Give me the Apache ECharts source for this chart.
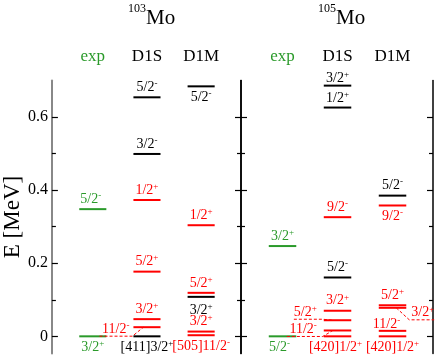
<!DOCTYPE html>
<html><head><meta charset="utf-8">
<script src="https://cdn.jsdelivr.net/npm/echarts@6/dist/echarts.min.js"></script>
<style>html,body{margin:0;padding:0;background:#fff}#c{width:436px;height:362px}</style>
</head><body><div id="c"></div>
<script>
// ---------- data ----------
const columns = ['exp', 'D1S', 'D1M'];
const yTickValues = [0, 0.2, 0.4, 0.6];
const yTickLabels = ['0', '0.2', '0.4', '0.6'];
const yMinorTickValues = [0.1, 0.3, 0.5];
const nucleusNames = ['103', '105'];

// 103Mo
const mo103ExpE = [0, 0.348];
const mo103ExpJ = ['3/2+', '5/2-'];
const mo103D1SE = [0, 0.025, 0.047, 0.177, 0.373, 0.499, 0.654];
const mo103D1SJ = ['[411]3/2+', '11/2-', '3/2+', '5/2+', '1/2+', '3/2-', '5/2-'];
const mo103D1SBand = ['k', 'r', 'r', 'r', 'r', 'k', 'k'];
const mo103D1ME = [0.003, 0.013, 0.108, 0.119, 0.304, 0.684];
const mo103D1MJ = ['[505]11/2-', '3/2+', '3/2+', '5/2+', '1/2+', '5/2-'];
const mo103D1MBand = ['r', 'r', 'k', 'r', 'r', 'k'];

// 105Mo
const mo105ExpE = [0, 0.247];
const mo105ExpJ = ['5/2-', '3/2+'];
const mo105D1SE = [0, 0.016, 0.044, 0.070, 0.161, 0.326, 0.626, 0.686];
const mo105D1SJ = ['[420]1/2+', '11/2-', '5/2+', '3/2+', '5/2-', '9/2-', '1/2+', '3/2+'];
const mo105D1SBand = ['r', 'r', 'r', 'r', 'k', 'r', 'k', 'k'];
const mo105D1ME = [0, 0.015, 0.078, 0.085, 0.358, 0.385];
const mo105D1MJ = ['[420]1/2+', '11/2-', '3/2+', '5/2+', '9/2-', '5/2-'];
const mo105D1MBand = ['r', 'r', 'r', 'r', 'r', 'k'];

// ---------- label layout (style, not data) ----------
const mo103ExpLay = [{p:'b'}, {p:'a', dx:-2}];
const mo103D1SLay = [{p:'b'}, {p:'l', g:4, dy:2, into:10}, {p:'a'}, {p:'a'}, {p:'a'}, {p:'a'}, {p:'a'}];
const mo103D1MLay = [{p:'b'}, {p:'a'}, {p:'b', dy:2}, {p:'a'}, {p:'a'}, {p:'b'}];
const mo105ExpLay = [{p:'b', dx:-3}, {p:'a'}];
const mo105D1SLay = [{p:'b', dx:-2}, {p:'l', g:7, dy:-1, into:9}, {p:'l', g:7, dy:-8, into:9}, {p:'a'}, {p:'a'}, {p:'a'}, {p:'a', dy:1}, {p:'a', dy:3}];
const mo105D1MLay = [{p:'b'}, {p:'a', dx:-6, dy:3}, {p:'r', g:5, dy:5, into:10}, {p:'a'}, {p:'b'}, {p:'a'}];

const GREEN = '#2a9a2a', RED = '#ff0000', BLACK = '#000000';
const FONT = 'Liberation Serif';
const LFS = 14;
const HALF = 0.25;
const XMIN = -0.755, XMAX = 2.736;
const YMIN = -0.047, YMAX = 0.7;

function buildItems(cols) {
  const items = [];
  cols.forEach((c, ci) => {
    c.E.forEach((e, i) => {
      items.push({ col: ci, E: e, J: c.J[i], band: c.band ? c.band[i] : 'g', lay: c.lay[i] });
    });
  });
  return items;
}
const panel103 = buildItems([
  { E: mo103ExpE, J: mo103ExpJ, lay: mo103ExpLay },
  { E: mo103D1SE, J: mo103D1SJ, band: mo103D1SBand, lay: mo103D1SLay },
  { E: mo103D1ME, J: mo103D1MJ, band: mo103D1MBand, lay: mo103D1MLay }
]);
const panel105 = buildItems([
  { E: mo105ExpE, J: mo105ExpJ, lay: mo105ExpLay },
  { E: mo105D1SE, J: mo105D1SJ, band: mo105D1SBand, lay: mo105D1SLay },
  { E: mo105D1ME, J: mo105D1MJ, band: mo105D1MBand, lay: mo105D1MLay }
]);

function colorOf(b) { return b === 'g' ? GREEN : (b === 'r' ? RED : BLACK); }
function richText(J) {
  const sign = J.slice(-1), main = J.slice(0, -1);
  return '{n|' + main + '}{s|' + (sign === '-' ? '-' : '+') + '}';
}
function richStyles(color) {
  return {
    n: { fontSize: LFS, fontFamily: FONT, fill: color, lineHeight: 16 },
    s: { fontSize: 9, fontFamily: FONT, fill: color, lineHeight: 9, verticalAlign: 'top' }
  };
}
function textEl(J, color, x, y, align) {
  return {
    type: 'text', x: x, y: y,
    style: { text: richText(J), rich: richStyles(color), fill: color, align: align, verticalAlign: 'middle',
             fontSize: LFS, fontFamily: FONT }
  };
}
function approxWidth(J) {
  const main = J.slice(0, -1);
  let w = 0;
  for (const ch of main) w += (ch === '/' ? 3.9 : (ch === '[' || ch === ']') ? 4.7 : 7);
  return w + 5;
}

function makeRender(items) {
  return function (params, api) {
    const it = items[params.dataIndex];
    const p0 = api.coord([it.col - HALF, it.E]);
    const p1 = api.coord([it.col + HALF, it.E]);
    const color = colorOf(it.band);
    const y = p0[1];
    const lay = it.lay || { p: 'a' };
    const dx = lay.dx || 0, dy = lay.dy || 0;
    const cx = (p0[0] + p1[0]) / 2 + dx;
    const children = [{
      type: 'line', shape: { x1: p0[0], y1: y, x2: p1[0], y2: y },
      style: { stroke: color, lineWidth: 2 }
    }];
    if (lay.p === 'a') {
      children.push(textEl(it.J, color, cx, y - 10 + dy, 'center'));
    } else if (lay.p === 'b') {
      children.push(textEl(it.J, color, cx, y + 11 + dy, 'center'));
    } else if (lay.p === 'l') {
      const right = p0[0] - lay.g;
      const w = approxWidth(it.J);
      const ty = y + dy;
      const uy = ty + 7;
      children.push(textEl(it.J, color, right, ty, 'right'));
      children.push({ type: 'polyline', shape: { points: [[right - w, uy], [p0[0] - 1, uy], [p0[0] + lay.into, y]] },
        style: { stroke: color, lineWidth: 1, lineDash: [3, 2], fill: null } });
    } else if (lay.p === 'r') {
      const left = p1[0] + lay.g;
      const w = approxWidth(it.J);
      const ty = y + dy;
      const uy = ty + 7;
      children.push(textEl(it.J, color, left, ty, 'left'));
      children.push({ type: 'polyline', shape: { points: [[p1[0] - lay.into, y], [left - 2, uy], [left + w, uy]] },
        style: { stroke: color, lineWidth: 1, lineDash: [3, 2], fill: null } });
    }
    return { type: 'group', children: children };
  };
}

const gridLeft = 49, gridW = 192, gridTop = 80.5, gridH = 273;

function xAx(gi) {
  return {
    gridIndex: gi, type: 'value', min: XMIN, max: XMAX, position: 'top',
    axisLine: { show: false, onZero: false }, axisTick: { show: false }, splitLine: { show: false },
    axisLabel: {
      customValues: [0, 1, 2], margin: 15, fontSize: 17, fontFamily: FONT,
      formatter: v => columns[Math.round(v)],
      color: v => (Number(v) === 0 ? GREEN : BLACK)
    }
  };
}
function yAx(gi, pos, major, opts) {
  const o = {
    gridIndex: gi, type: 'value', min: YMIN, max: YMAX, position: pos,
    splitLine: { show: false },
    axisLine: { show: major, onZero: false, lineStyle: { color: BLACK, width: 1.5 } },
    axisTick: { show: true, inside: true, length: major ? 6 : 4,
      customValues: major ? yTickValues : yMinorTickValues, lineStyle: { color: BLACK, width: 1.2 } },
    axisLabel: { show: false }
  };
  return Object.assign(o, opts || {});
}

const titleRich = {
  s: { fontSize: 12, fontFamily: FONT, fontWeight: 'normal', color: BLACK, lineHeight: 12, verticalAlign: 'top' },
  m: { fontSize: 21, fontFamily: FONT, fontWeight: 'normal', color: BLACK, lineHeight: 30 }
};

const chart = echarts.init(document.getElementById('c'), null, { renderer: 'canvas' });
chart.setOption({
  animation: false,
  backgroundColor: '#fff',
  title: [
    { text: '{s|' + nucleusNames[0] + '}{m|Mo}', left: 128, top: 3, padding: 0,
      textStyle: { fontWeight: 'normal', rich: titleRich } },
    { text: '{s|' + nucleusNames[1] + '}{m|Mo}', left: 318, top: 3, padding: 0,
      textStyle: { fontWeight: 'normal', rich: titleRich } }
  ],
  grid: [
    { left: gridLeft, top: gridTop, width: gridW, height: gridH },
    { left: gridLeft + gridW, top: gridTop, width: gridW, height: gridH }
  ],
  xAxis: [xAx(0), xAx(1)],
  yAxis: [
    yAx(0, 'left', true, {
      name: 'E [MeV]', nameLocation: 'middle', nameGap: 27,
      nameTextStyle: { fontFamily: FONT, fontSize: 23, color: BLACK },
      axisLine: { show: true, onZero: false, lineStyle: { color: '#888', width: 2 } },
      axisLabel: { show: true, customValues: yTickValues, margin: 4, fontSize: 16, fontFamily: FONT, color: BLACK,
        formatter: v => { const i = yTickValues.findIndex(t => Math.abs(t - v) < 1e-9); return i >= 0 ? yTickLabels[i] : ''; } }
    }),
    yAx(0, 'left', false),
    yAx(0, 'right', true),
    yAx(0, 'right', false),
    yAx(1, 'left', true),
    yAx(1, 'left', false),
    yAx(1, 'right', true),
    yAx(1, 'right', false)
  ],
  series: [
    { type: 'custom', xAxisIndex: 0, yAxisIndex: 0, clip: false,
      data: panel103.map(d => [d.col, d.E]), renderItem: makeRender(panel103) },
    { type: 'custom', xAxisIndex: 1, yAxisIndex: 4, clip: false,
      data: panel105.map(d => [d.col, d.E]), renderItem: makeRender(panel105) }
  ]
});
</script>
</body></html>
